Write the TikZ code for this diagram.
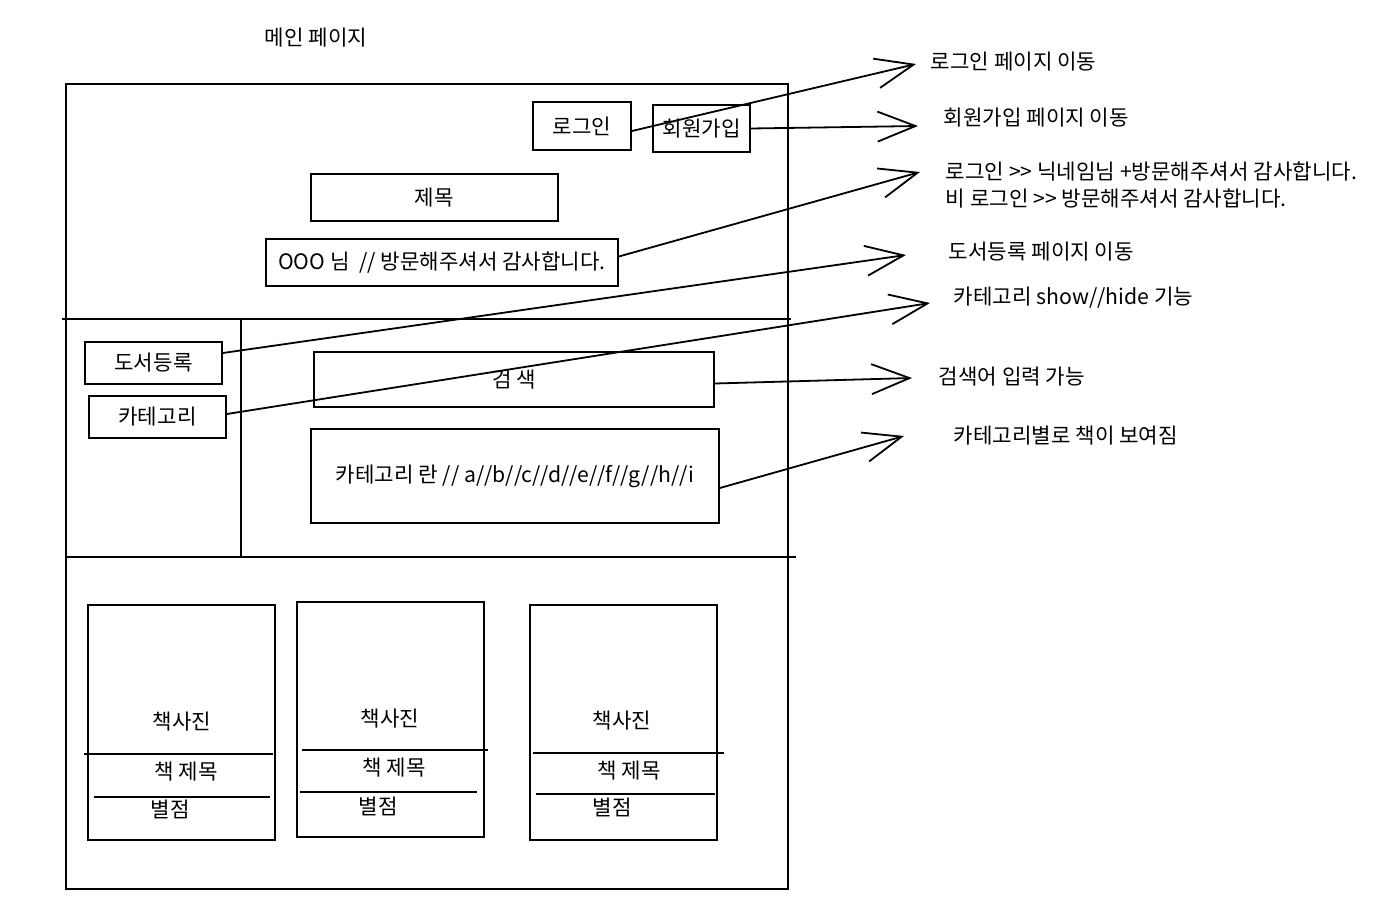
\documentclass[tikz,border=0pt]{standalone}
\usepackage{fontspec}
\setmainfont{Noto Sans CJK KR}[Ligatures=TeXOff]
\usetikzlibrary{arrows.meta}
\begin{document}
\begin{tikzpicture}[x=0.5pt,y=-0.5pt,
  every node/.style={font=\fontsize{10.6pt}{12.5pt}\selectfont, inner sep=0pt},
  box/.style={draw, line width=0.9pt},
  conn/.style={line width=0.9pt, -{Straight Barb[length=19pt,width=15pt,line width=0.9pt]}},
  lbl/.style={anchor=west},
  line width=0.9pt]
\useasboundingbox (0,0) rectangle (1388,904);

% frame
\draw (66,84) rectangle (788,889);
\draw (62,319) -- (791,319);
\draw (66,557) -- (796,557);
\draw (241,319) -- (241,557);

\node at (316,38) {메인 페이지};

% top area
\node[box, minimum width=49pt, minimum height=24pt] (login) at (582,126) {로그인};
\node[box, minimum width=48.5pt, minimum height=23.5pt] (signup) at (701.5,128.5) {회원가입};
\node[box, minimum width=123.5pt, minimum height=23.5pt] (title) at (434.5,197.5) {제목};
\node[box, minimum width=176pt, minimum height=23.5pt] (ooo) at (442,262.5) {OOO 님 \ // 방문해주셔서 감사합니다.};

% middle area
\node[box, minimum width=68.5pt, minimum height=21pt] (dosu) at (153.5,363) {도서등록};
\node[box, minimum width=68.5pt, minimum height=21pt] (cat) at (157.5,417) {카테고리};
\node[box, minimum width=200pt, minimum height=27.5pt] (search) at (514,379.5) {검 색};
\node[box, minimum width=204pt, minimum height=47pt] (catlist) at (515,476) {카테고리 란 // a//b//c//d//e//f//g//h//i};

% book cards
\node[box, minimum width=93.5pt, minimum height=117.5pt] (card1) at (181.5,722.5) {};
\node[box, minimum width=93.5pt, minimum height=117.5pt] (card2) at (390.5,719.5) {};
\node[box, minimum width=93.5pt, minimum height=117.5pt] (card3) at (623.5,722.5) {};
\draw (84,754) -- (273,754);
\draw (94,797) -- (270,797);
\draw (302,750) -- (488,750);
\draw (300,792) -- (477,792);
\draw (533,753) -- (724,753);
\draw (536,794) -- (715,794);
\node (p1) at (182,722) {책사진};
\node (p2) at (390,719) {책사진};
\node (p3) at (622,721) {책사진};
\node (n1) at (186,772) {책 제목};
\node (n2) at (394,768) {책 제목};
\node (n3) at (629,771) {책 제목};
\node (s1) at (170,809) {별점};
\node (s2) at (378,806) {별점};
\node (s3) at (612,807) {별점};

% arrow tips
\coordinate (t1) at (916,64);
\coordinate (t2) at (918,126);
\coordinate (t3) at (920,172);
\coordinate (t4) at (906,255);
\coordinate (t5) at (930,303);
\coordinate (t6) at (912,378);
\coordinate (t7) at (904,436);

\draw[conn] ([yshift=-2.5pt]login.east) -- (t1);
\draw[conn] (signup.east) -- (t2);
\draw[conn] ([yshift=3pt]ooo.east) -- (t3);
\draw[conn] ([yshift=5pt]dosu.east) -- (t4);
\draw[conn] ([yshift=1.5pt]cat.east) -- (t5);
\draw[conn] ([yshift=-2pt]search.east) -- (t6);
\draw[conn] ([yshift=-6pt]catlist.east) -- (t7);

% labels
\node[lbl] (l1) at (930,62) {로그인 페이지 이동};
\node[lbl] (l2) at (943,118) {회원가입 페이지 이동};
\node[lbl] (l3a) at (945,171) {로그인 >> 닉네임님 +방문해주셔서 감사합니다.};
\node[lbl] (l3b) at (945,198) {비 로그인 >> 방문해주셔서 감사합니다.};
\node[lbl] (l4) at (948,252) {도서등록 페이지 이동};
\node[lbl] (l5) at (953,298) {카테고리 show//hide 기능};
\node[lbl] (l6) at (938,377) {검색어 입력 가능};
\node[lbl] (l7) at (953,436) {카테고리별로 책이 보여짐};
\end{tikzpicture}
\end{document}
